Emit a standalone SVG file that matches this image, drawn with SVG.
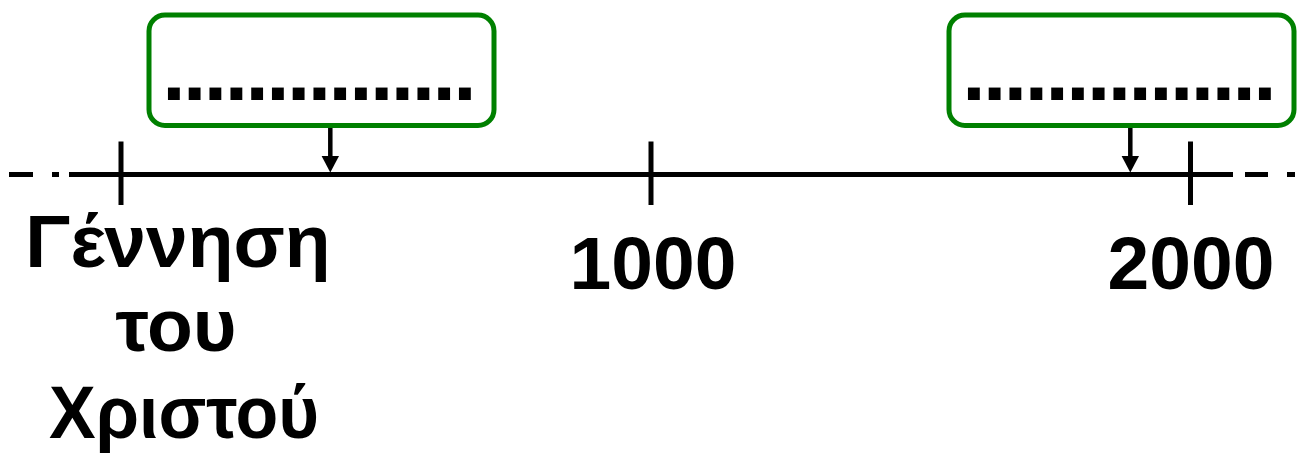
<svg xmlns="http://www.w3.org/2000/svg" width="1303" height="453" viewBox="0 0 1303 453">
<style>
.box{fill:#ffffff;stroke:#008000;stroke-width:5}
.t{font-family:"Liberation Sans",Arial,sans-serif;font-weight:bold;font-size:75px;fill:#000}
.dots{font-family:"Liberation Sans",Arial,sans-serif;font-weight:bold;font-size:84px;letter-spacing:-2.56px;fill:#000}
.axis{stroke:#000;stroke-width:5;fill:none}
.shaft{stroke:#000;stroke-width:4.5;fill:none}
</style>
<rect width="1303" height="453" fill="#ffffff"/>
<g id="connectors">
  <line class="axis" x1="69" y1="174.5" x2="1233" y2="174.5"/>
  <line class="axis" x1="9" y1="174.5" x2="33" y2="174.5"/>
  <line class="axis" x1="52" y1="174.5" x2="59" y2="174.5"/>
  <line class="axis" x1="1245" y1="174.5" x2="1268" y2="174.5"/>
  <line class="axis" x1="1287" y1="174.5" x2="1295" y2="174.5"/>
  <line class="axis" x1="121" y1="141.5" x2="121" y2="205"/>
  <line class="axis" x1="651" y1="141.5" x2="651" y2="205"/>
  <line class="axis" x1="1190.5" y1="141.5" x2="1190.5" y2="205"/>
  <line class="shaft" x1="330.3" y1="127" x2="330.3" y2="157"/>
  <polygon points="321.6,156 339,156 330.3,172.5" fill="#000"/>
  <line class="shaft" x1="1130.3" y1="127" x2="1130.3" y2="157"/>
  <polygon points="1121.6,156 1139,156 1130.3,172.5" fill="#000"/>
</g>
<g id="box-left">
  <rect class="box" x="149" y="15" width="345" height="110.5" rx="16"/>
  <text class="dots" x="162.3" y="99.5">...............</text>
</g>
<g id="box-right">
  <rect class="box" x="949" y="15" width="345" height="110.5" rx="16"/>
  <text class="dots" x="962.3" y="99.5">...............</text>
</g>
<g id="label-birth">
  <text class="t" text-anchor="middle" x="178" y="266.5">Γέννηση</text>
  <text class="t" text-anchor="middle" x="176" y="351">του</text>
  <text class="t" text-anchor="middle" x="184" y="438" textLength="270" lengthAdjust="spacingAndGlyphs">Χριστού</text>
</g>
<g id="label-1000">
  <text class="t" text-anchor="middle" x="653" y="288.5">1000</text>
</g>
<g id="label-2000">
  <text class="t" text-anchor="middle" x="1191" y="289">2000</text>
</g>
</svg>
